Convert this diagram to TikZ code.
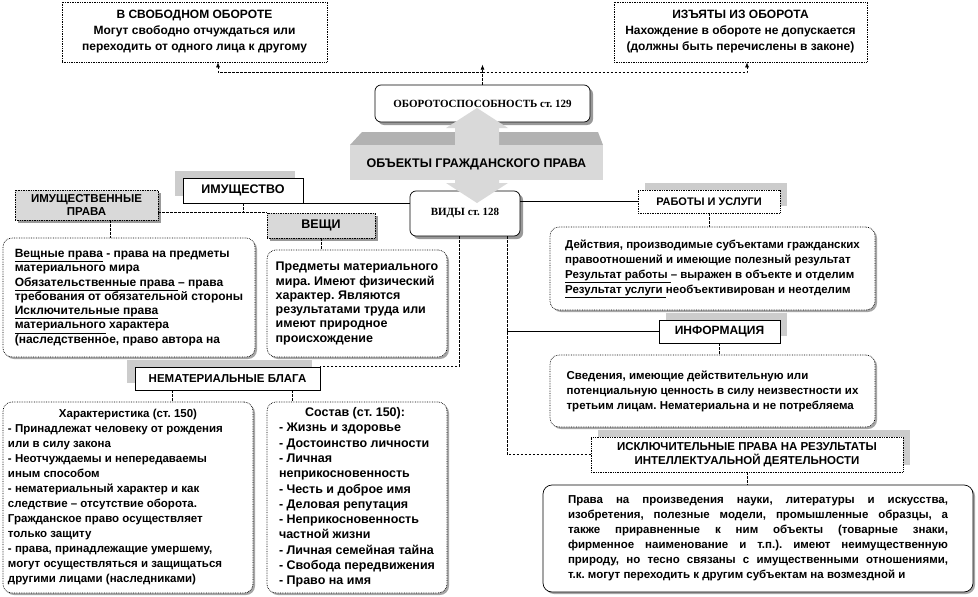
\documentclass[tikz,border=0pt]{standalone}
\usepackage{fontspec}
\setmainfont{Liberation Sans}
\newfontfamily\romanfont{Liberation Serif}
\frenchspacing
\usetikzlibrary{shadows,arrows.meta,calc}
\tikzset{>={Latex[length=5pt,width=4pt]}}
\tikzset{
    topbox/.style={draw, densely dotted, fill=white, align=center, inner sep=0pt,
        font=\bfseries\fontsize{12}{16}\selectfont},
    romanbox/.style={draw, rounded corners=6pt, fill=white, inner sep=0pt,
        font=\romanfont\bfseries\fontsize{11}{12}\selectfont,
        drop shadow={shadow xshift=3pt, shadow yshift=-3pt, fill=gray!80, opacity=1}},
    labelbox/.style={draw, fill=white, align=center, inner sep=0pt,
        font=\bfseries\fontsize{11.5}{13.5}\selectfont},
    shadowleft/.style={general shadow={shadow xshift=-8pt, shadow yshift=7pt, fill=gray!40}},
    shadowright/.style={general shadow={shadow xshift=7pt, shadow yshift=7pt, fill=gray!40}},
    graybox/.style={draw, densely dotted, fill=gray!30, align=center, inner sep=0pt,
        font=\bfseries\fontsize{11.5}{13}\selectfont,
        drop shadow={shadow xshift=3pt, shadow yshift=-3pt, fill=gray!80, opacity=1}},
    textbox/.style={draw, densely dotted, rounded corners=9pt, fill=white, align=left,
        inner sep=0pt, font=\bfseries\fontsize{11.5}{15}\selectfont,
        drop shadow={shadow xshift=2pt, shadow yshift=-2pt, fill=gray!70, opacity=1}},
    dashline/.style={dash pattern=on 2.5pt off 1.5pt},
}

\begin{document}
\begin{tikzpicture}[x=1pt, y=-1pt, line width=0.7pt]
    \useasboundingbox (0,0) rectangle (978,597);

    % Turnover boxes
    \node[topbox, minimum width=265pt, minimum height=60pt] (free) at (194.5,32)
        {В СВОБОДНОМ  ОБОРОТЕ\\Могут свободно отчуждаться или\\переходить  от одного лица  к другому};
    \node[topbox, minimum width=253pt, minimum height=60pt] (withdrawn) at (740.5,32)
        {ИЗЪЯТЫ ИЗ ОБОРОТА\\Нахождение в обороте не допускается\\(должны быть перечислены в законе)};
    \node[romanbox, minimum width=215pt, minimum height=37pt] (turnover) at (482.5,103.5)
        {ОБОРОТОСПОСОБНОСТЬ ст. 129};
    \node[romanbox, minimum width=110pt, minimum height=45pt] (kinds) at (465,213.5)
        {ВИДЫ ст. 128};

    % Title block with double arrow
    \fill[gray!60] (350,145) -- (362,132) -- (598,132) -- (603,145) -- cycle;
    \fill[gray!30] (350,145) rectangle (603,180);
    \fill[gray!30] (477,108) -- (508,128) -- (499,128) -- (499,183) -- (508,183)
        -- (477,203) -- (446,183) -- (455,183) -- (455,128) -- (446,128) -- cycle;
    \node[font=\bfseries\fontsize{12.5}{14}\selectfont] (objects) at (476.5,164)
        {ОБЪЕКТЫ ГРАЖДАНСКОГО  ПРАВА};

    % Property branch
    \node[labelbox, shadowleft, font=\bfseries\fontsize{12.5}{14}\selectfont,
          minimum width=120pt, minimum height=25pt] (property) at (243,190.5)
        {ИМУЩЕСТВО};
    \node[graybox, minimum width=143pt, minimum height=30pt] (proprights) at (86.5,205)
        {ИМУЩЕСТВЕННЫЕ\\ПРАВА};
    \node[graybox, font=\bfseries\fontsize{12.5}{14}\selectfont,
          minimum width=108pt, minimum height=25pt] (things) at (321,225.5)
        {ВЕЩИ};
    \node[textbox, font=\bfseries\fontsize{12}{14.3}\selectfont,
          minimum width=252pt, minimum height=119pt] (proptext) at (129,297.5)
        {\underline{Вещные права} - права на предметы\\
         материального мира\\
         \underline{Обязательственные права }– права\\
         требования от обязательной стороны\\
         \underline{Исключительные права}\\
         \underline{материального} характера\\
         (наследственное, право автора на};
    \node[textbox, font=\bfseries\fontsize{12.5}{14.3}\selectfont,
          minimum width=180pt, minimum height=107pt] (thingstext) at (357,303.5)
        {Предметы материального\\
         мира. Имеют физический\\
         характер. Являются\\
         результатами труда или\\
         имеют природное\\
         происхождение};

    % Intangible branch
    \node[labelbox, shadowleft, minimum width=185pt, minimum height=23pt] (intangible) at (227.5,378.5)
        {НЕМАТЕРИАЛЬНЫЕ  БЛАГА};
    \node[textbox, minimum width=250pt, minimum height=191pt] (chartext) at (128,497.5)
        {\makebox[240pt]{Характеристика (ст. 150)}\\
         - Принадлежат человеку от рождения\\
         или в силу закона\\
         - Неотчуждаемы и непередаваемы\\
         иным способом\\
         - нематериальный характер и как\\
         следствие – отсутствие оборота.\\
         Гражданское право осуществляет\\
         только защиту\\
         - права, принадлежащие умершему,\\
         могут осуществляться и защищаться\\
         другими лицами (наследниками)};
    \node[textbox, font=\bfseries\fontsize{12.5}{15.3}\selectfont,
          minimum width=180pt, minimum height=191pt] (comptext) at (357,497.5)
        {\makebox[152pt]{Состав (ст. 150):}\\
         - Жизнь и здоровье\\
         - Достоинство личности\\
         - Личная\\
         неприкосновенность\\
         - Честь и доброе имя\\
         - Деловая репутация\\
         - Неприкосновенность\\
         частной жизни\\
         - Личная семейная тайна\\
         - Свобода передвижения\\
         - Право на имя};

    % Right branch
    \node[labelbox, densely dotted, shadowright, font=\bfseries\fontsize{11}{13}\selectfont,
          minimum width=142pt, minimum height=23pt] (works) at (709,201.5)
        {РАБОТЫ  И УСЛУГИ};
    \node[textbox, minimum width=325pt, minimum height=83pt] (workstext) at (712.5,268.5)
        {Действия,  производимые  субъектами  гражданских\\
         правоотношений  и имеющие полезный  результат\\
         \underline{Результат  работы }– выражен в объекте  и отделим\\
         \underline{Результат  услуги }необъективирован  и неотделим};
    \node[labelbox, shadowright, font=\bfseries\fontsize{12}{14}\selectfont,
          minimum width=121pt, minimum height=23pt] (info) at (719.5,331.5)
        {ИНФОРМАЦИЯ};
    \node[textbox, minimum width=325pt, minimum height=72pt] (infotext) at (712.5,391)
        {Сведения,  имеющие действительную  или\\
         потенциальную  ценность в силу неизвестности  их\\
         третьим лицам. Нематериальна  и не потребляема};
    \node[labelbox, densely dotted, shadowright, minimum width=312pt, minimum height=35pt] (exclusive) at (747,454.5)
        {ИСКЛЮЧИТЕЛЬНЫЕ ПРАВА  НА РЕЗУЛЬТАТЫ\\ИНТЕЛЛЕКТУАЛЬНОЙ ДЕЯТЕЛЬНОСТИ};
    \node[textbox, solid, align=justify, text width=380pt, inner xsep=25pt,
          minimum height=107pt] (excltext) at (758,538.5)
        {Права  на произведения  науки, литературы  и искусства,\linebreak
         изобретения,  полезные  модели, промышленные  образцы,  а\linebreak
         также приравненные  к ним объекты  (товарные  знаки,\linebreak
         фирменное  наименование  и т.п.). имеют неимущественную\linebreak
         природу, но тесно  связаны с имущественными  отношениями,\linebreak
         т.к. могут переходить  к другим субъектам  на возмездной  и};

    % Connectors
    \draw[dashline,->] (turnover.north) -- ++(0,-20);
    \coordinate (bus) at ($(turnover.north)+(0,-12)$);
    \draw[dashline,->] (bus) -| ([xshift=23.5pt]free.south);
    \draw[dashline,->] (bus) -| ([xshift=6.5pt]withdrawn.south);

    \draw (property.south east) -- (property.south east -| kinds.west);
    \draw (kinds.east |- works.west) -- (works.west);
    \draw[dashline] (property.south) -- (property.south |- things.north west);
    \draw[dashline] (proprights.east |- things.north west) -- (things.north west);
    \coordinate (propdown) at ([xshift=23.5pt]proprights.south);
    \draw[dashline] (propdown) -- (propdown |- proptext.north);
    \draw[dashline] (things.south) -- (things.south |- thingstext.north);

    \coordinate (kindsleft) at ([xshift=-6pt]kinds.south);
    \coordinate (kindsright) at ([xshift=42pt]kinds.south);
    \draw[dashline] (kindsleft) |- (intangible.north east);
    \draw[dashline] (kindsright) |- (exclusive.west);
    \draw (kindsright |- info.west) -- (info.west);

    \coordinate (chardown) at ([xshift=-55.5pt]intangible.south);
    \coordinate (compdown) at ([xshift=64.5pt]intangible.south);
    \draw[dashline] (chardown) -- (chardown |- chartext.north);
    \draw[dashline] (compdown) -- (compdown |- comptext.north);
    \draw[dashline] (works.south) -- (works.south |- workstext.north);
    \draw[dashline] (info.south) -- (info.south |- infotext.north);
    \draw[dashline] (exclusive.south) -- (exclusive.south |- excltext.north);
\end{tikzpicture}
\end{document}
